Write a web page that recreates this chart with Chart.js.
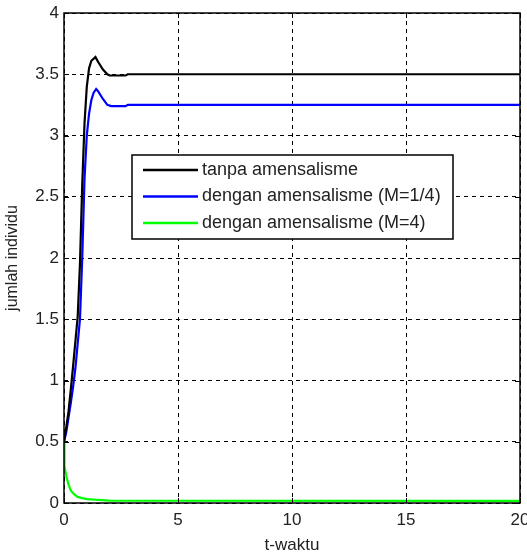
<!DOCTYPE html>
<html>
<head>
<meta charset="utf-8">
<script src="https://cdn.jsdelivr.net/npm/chart.js@4/dist/chart.umd.min.js"></script>
<style>
html,body{margin:0;padding:0;background:#fff;}
#wrap{position:relative;width:527px;height:555px;}
</style>
</head>
<body>
<div id="wrap"><canvas id="c" width="527" height="555"></canvas></div>
<script>
// ---- data ----
const seriesLabels = ['tanpa amensalisme', 'dengan amensalisme (M=1/4)', 'dengan amensalisme (M=4)'];

const tBlack = [0, 0.05, 0.1, 0.2, 0.3, 0.4, 0.5, 0.6, 0.7, 0.8, 0.9, 1.0, 1.1, 1.2, 1.38, 1.5, 1.7, 1.9, 2.0, 2.7, 2.8, 20];
const yBlack = [0.5, 0.56, 0.62, 0.75, 0.93, 1.12, 1.32, 1.52, 1.95, 2.6, 3.1, 3.4, 3.55, 3.61, 3.64, 3.6, 3.54, 3.5, 3.49, 3.49, 3.5, 3.5];

const tBlue = [0, 0.1, 0.2, 0.3, 0.4, 0.5, 0.6, 0.7, 0.8, 0.9, 1.0, 1.1, 1.2, 1.3, 1.41, 1.5, 1.7, 1.9, 2.07, 2.7, 2.8, 20];
const yBlue = [0.5, 0.58, 0.7, 0.82, 0.95, 1.1, 1.3, 1.5, 2.0, 2.65, 3.0, 3.18, 3.29, 3.35, 3.38, 3.36, 3.3, 3.25, 3.24, 3.24, 3.25, 3.25];

const tGreen = [0, 0.02, 0.1, 0.2, 0.3, 0.45, 0.6, 0.8, 1.0, 1.5, 2.0, 20];
const yGreen = [0.5, 0.3, 0.22, 0.15, 0.1, 0.07, 0.05, 0.04, 0.032, 0.025, 0.02, 0.018];

const xTicks = [0, 5, 10, 15, 20];
const yTicks = [0, 0.5, 1, 1.5, 2, 2.5, 3, 3.5, 4];
const xTitle = 't-waktu';
const yTitle = 'jumlah individu';
const colors = ['#000000', '#0000ff', '#00ff00'];

function pts(t, y) { return t.map((v, i) => ({x: v, y: y[i]})); }

const FONT = 'Arial, "Liberation Sans", sans-serif';

const legendBox = {
  id: 'legendBox',
  afterDraw(chart) {
    const ctx = chart.ctx;
    const ca = chart.chartArea;
    ctx.save();
    ctx.strokeStyle = '#000';
    ctx.lineWidth = 1;
    ctx.setLineDash([]);
    const xs = chart.scales.x, ys = chart.scales.y;
    ctx.beginPath();
    xTicks.forEach(v => {
      const px = Math.round(xs.getPixelForValue(v)) + 0.5;
      ctx.moveTo(px, ca.bottom); ctx.lineTo(px, ca.bottom - 5);
      ctx.moveTo(px, ca.top); ctx.lineTo(px, ca.top + 5);
    });
    yTicks.forEach(v => {
      const py = Math.round(ys.getPixelForValue(v)) + 0.5;
      ctx.moveTo(ca.left, py); ctx.lineTo(ca.left + 5, py);
      ctx.moveTo(ca.right, py); ctx.lineTo(ca.right - 5, py);
    });
    ctx.stroke();
    ctx.lineWidth = 1.5;
    ctx.strokeRect(ca.left, ca.top, ca.right - ca.left, ca.bottom - ca.top);

    // legend
    const bx = ca.left + 68, by = ca.top + 142, bw = 321, bh = 84;
    ctx.fillStyle = '#fff';
    ctx.fillRect(bx, by, bw, bh);
    ctx.lineWidth = 1.5;
    ctx.strokeStyle = '#000';
    ctx.strokeRect(bx, by, bw, bh);
    ctx.font = '18px ' + FONT;
    ctx.textBaseline = 'middle';
    ctx.textAlign = 'left';
    chart.data.datasets.forEach((ds, i) => {
      const cy = by + 15 + i * 26.5;
      ctx.strokeStyle = ds.borderColor;
      ctx.lineWidth = 2.5;
      ctx.beginPath();
      ctx.moveTo(bx + 11, cy); ctx.lineTo(bx + 66, cy);
      ctx.stroke();
      ctx.fillStyle = '#222';
      ctx.fillText(ds.label, bx + 70, cy);
    });
    ctx.restore();
  }
};

new Chart(document.getElementById('c'), {
  type: 'line',
  data: {
    datasets: [
      {label: seriesLabels[0], data: pts(tBlack, yBlack), borderColor: colors[0], borderWidth: 2.2},
      {label: seriesLabels[1], data: pts(tBlue, yBlue), borderColor: colors[1], borderWidth: 2.2},
      {label: seriesLabels[2], data: pts(tGreen, yGreen), borderColor: colors[2], borderWidth: 2.2}
    ]
  },
  options: {
    responsive: false,
    animation: false,
    devicePixelRatio: 1,
    layout: {padding: {top: 13, right: 7, left: 0, bottom: 0}},
    elements: {point: {radius: 0}, line: {tension: 0, fill: false}},
    plugins: {legend: {display: false}, tooltip: {enabled: false}},
    scales: {
      x: {
        type: 'linear', min: 0, max: 20,
        afterBuildTicks: s => { s.ticks = xTicks.map(v => ({value: v})); },
        afterFit: s => { s.height = 52; s.paddingLeft = 0; s.paddingRight = 0; },
        ticks: {color: '#222', font: {family: FONT, size: 17}, padding: 7, maxRotation: 0},
        grid: {color: '#000', lineWidth: 1, tickLength: 0, drawTicks: false},
        border: {display: false, dash: [4, 4]},
        title: {display: true, text: xTitle, color: '#222', font: {family: FONT, size: 17}, padding: {top: 0, bottom: -1}}
      },
      y: {
        type: 'linear', min: 0, max: 4,
        afterBuildTicks: s => { s.ticks = yTicks.map(v => ({value: v})); },
        afterFit: s => { s.width = 64; s.paddingTop = 0; s.paddingBottom = 0; },
        ticks: {color: '#222', font: {family: FONT, size: 17}, padding: 5, callback: v => String(v)},
        grid: {color: '#000', lineWidth: 1, drawTicks: false},
        border: {display: false, dash: [4, 4]},
        title: {display: true, text: yTitle, color: '#222', font: {family: FONT, size: 16}, padding: {top: 3, bottom: 0}}
      }
    }
  },
  plugins: [legendBox]
});
</script>
</body>
</html>
